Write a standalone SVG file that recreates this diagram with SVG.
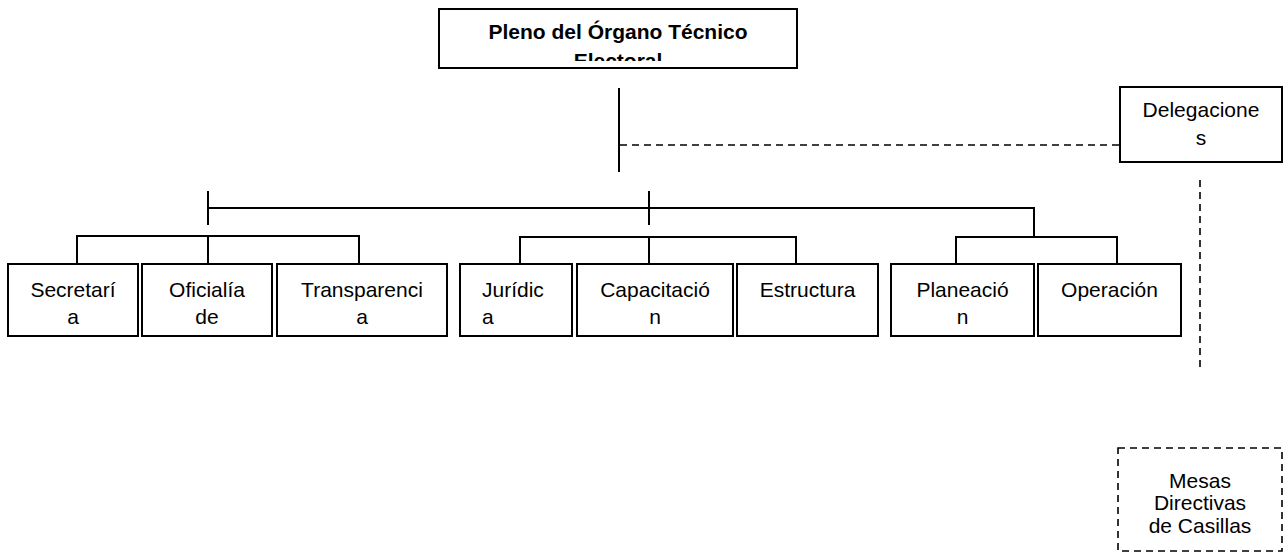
<svg xmlns="http://www.w3.org/2000/svg" width="1284" height="552" viewBox="0 0 1284 552">
<style>
.box{fill:#fff;stroke:#000;stroke-width:2}
.dbox{fill:#fff;stroke:#000;stroke-width:1.6;stroke-dasharray:7,5}
.ln{fill:none;stroke:#000;stroke-width:2}
.dl{fill:none;stroke:#000;stroke-width:1.6;stroke-dasharray:7,5}
text{font-family:"Liberation Sans",Arial,sans-serif;font-size:21px;fill:#000;text-anchor:middle}
.b{font-weight:bold}
.l{text-anchor:start}
</style>
<defs>
<clipPath id="clipTop"><rect x="440" y="10" width="356" height="51"/></clipPath>
</defs>
<g id="connectors">
<line class="ln" x1="619" y1="88" x2="619" y2="172"/>
<line class="dl" x1="620" y1="145" x2="1120" y2="145"/>
<line class="ln" x1="208" y1="191" x2="208" y2="225"/>
<line class="ln" x1="649" y1="191" x2="649" y2="225"/>
<polyline class="ln" points="208,208 1034,208 1034,237"/>
<polyline class="ln" points="77,264 77,236 359,236 359,264"/>
<line class="ln" x1="208" y1="236" x2="208" y2="264"/>
<polyline class="ln" points="520,264 520,237 796,237 796,264"/>
<line class="ln" x1="649" y1="237" x2="649" y2="264"/>
<polyline class="ln" points="956,264 956,237 1117,237 1117,264"/>
<line class="dl" x1="1200" y1="180" x2="1200" y2="372"/>
</g>
<g id="pleno">
<rect class="box" x="439" y="9" width="358" height="59"/>
<g clip-path="url(#clipTop)">
<text class="b" x="618" y="39">Pleno del Órgano Técnico</text>
<text class="b" x="618" y="68">Electoral</text>
</g>
</g>
<g id="delegaciones">
<rect class="box" x="1120" y="87" width="162" height="75"/>
<text x="1201" y="117">Delegacione</text>
<text x="1201" y="145">s</text>
</g>
<g id="secretaria">
<rect class="box" x="8" y="264" width="130" height="72"/>
<text x="73" y="297">Secretarí</text>
<text x="73" y="324">a</text>
</g>
<g id="oficialia">
<rect class="box" x="142" y="264" width="130" height="72"/>
<text x="207" y="297">Oficialía</text>
<text x="207" y="324">de</text>
</g>
<g id="transparencia">
<rect class="box" x="277" y="264" width="170" height="72"/>
<text x="362" y="297">Transparenci</text>
<text x="362" y="324">a</text>
</g>
<g id="juridica">
<rect class="box" x="460" y="264" width="112" height="72"/>
<text class="l" x="482" y="297">Jurídic</text>
<text class="l" x="482" y="324">a</text>
</g>
<g id="capacitacion">
<rect class="box" x="577" y="264" width="156" height="72"/>
<text x="655" y="297">Capacitació</text>
<text x="655" y="324">n</text>
</g>
<g id="estructura">
<rect class="box" x="737" y="264" width="141" height="72"/>
<text x="807.5" y="297">Estructura</text>
</g>
<g id="planeacion">
<rect class="box" x="891" y="264" width="143" height="72"/>
<text x="962.5" y="297">Planeació</text>
<text x="962.5" y="324">n</text>
</g>
<g id="operacion">
<rect class="box" x="1038" y="264" width="143" height="72"/>
<text x="1109.5" y="297">Operación</text>
</g>
<g id="mesas">
<rect class="dbox" x="1118" y="448" width="164" height="103"/>
<text x="1200" y="488">Mesas</text>
<text x="1200" y="510">Directivas</text>
<text x="1200" y="533">de Casillas</text>
</g>
</svg>
